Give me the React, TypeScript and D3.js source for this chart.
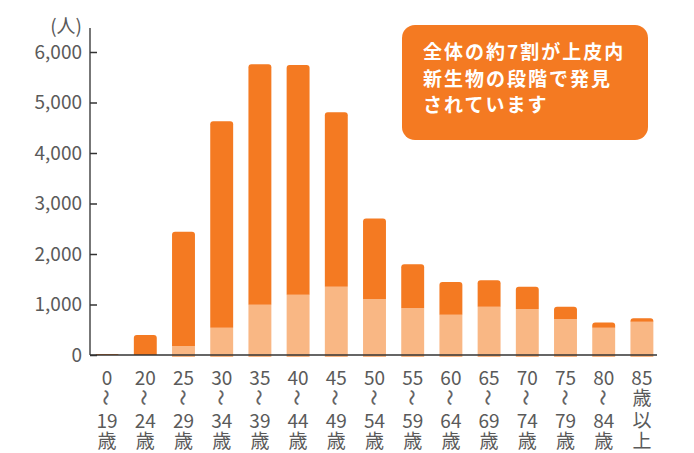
import React, { useRef, useEffect } from 'react';
import * as d3 from 'd3';

// age groups: first line, second line(s)
const ageFrom = ['0', '20', '25', '30', '35', '40', '45', '50', '55', '60', '65', '70', '75', '80', '85'];
const ageTo = ['19', '24', '29', '34', '39', '44', '49', '54', '59', '64', '69', '74', '79', '84', ''];
// 上皮内 (light) and the rest (dark), people
const inSitu = [0, 0, 180, 540, 995, 1195, 1350, 1110, 925, 798, 957, 911, 713, 541, 660];
const invasive = [20, 395, 2260, 4090, 4760, 4550, 3455, 1595, 870, 647, 523, 439, 242, 104, 70];
const yTicks = [0, 1000, 2000, 3000, 4000, 5000, 6000];
const noteLines = ['全体の約7割が上皮内', '新生物の段階で発見', 'されています'];

const DARK = '#F47A22';
const LIGHT = '#F9B784';
const FONT = '"Noto Sans CJK JP", "Noto Sans", sans-serif';

const width = 694;
const height = 453;
const margin = { top: 52, bottom: 98, left: 90, right: 33 };

function topRounded(x: number, y: number, w: number, h: number, r: number) {
  const rr = Math.min(r, h, w / 2);
  return `M${x},${y + h}V${y + rr}Q${x},${y} ${x + rr},${y}H${x + w - rr}Q${x + w},${y} ${x + w},${y + rr}V${y + h}Z`;
}

const App: React.FC = () => {
  const yAxisRef = useRef<SVGGElement>(null);

  const x = d3.scaleBand<string>()
    .domain(ageFrom)
    .range([88, 661])
    .paddingInner(0.4)
    .paddingOuter(0.2);

  const y = d3.scaleLinear()
    .domain([0, 6000])
    .range([height - margin.bottom, margin.top]);

  useEffect(() => {
    if (!yAxisRef.current) return;
    const g = d3.select(yAxisRef.current);
    g.selectAll('*').remove();
    g.call(
      d3.axisLeft(y)
        .tickValues(yTicks)
        .tickFormat(d3.format(','))
        .tickSizeInner(-7)
        .tickSizeOuter(0)
        .tickPadding(8)
    );
    g.select('.domain').remove();
    g.selectAll('.tick line').attr('stroke', '#333').attr('stroke-width', 1.5);
    g.selectAll('.tick text')
      .attr('fill', '#5a5a5a')
      .style('font-family', FONT)
      .style('font-size', '19px');
  }, []);

  const baseY = y(0);
  const bw = x.bandwidth();

  return (
    <svg width={width} height={height} style={{ position: 'absolute', left: 0, top: 0, background: '#fff' }}>
      {/* bars */}
      {ageFrom.map((a, i) => {
        const x0 = x(a)!;
        const lightTop = y(inSitu[i]);
        const darkTop = y(inSitu[i] + invasive[i]);
        return (
          <g key={a}>
            {inSitu[i] > 0 && (
              <rect x={x0} y={lightTop} width={bw} height={baseY - lightTop + 2} fill={LIGHT} />
            )}
            <path d={topRounded(x0, darkTop, bw, lightTop - darkTop, 3)} fill={DARK} />
          </g>
        );
      })}

      {/* y axis */}
      <line x1={margin.left} x2={margin.left} y1={28} y2={baseY} stroke="#777" strokeWidth={2} />
      <g ref={yAxisRef} transform={`translate(${margin.left},0)`} />
      <text x={82} y={33} textAnchor="end" fill="#5a5a5a" style={{ fontFamily: FONT, fontSize: 19 }}>(人)</text>

      {/* x axis */}
      <line x1={margin.left} x2={657} y1={baseY} y2={baseY} stroke="#333" strokeWidth={1.5} />
      {ageFrom.map((a, i) => {
        const cx = x(a)! + bw / 2;
        const txt = { fontFamily: FONT, fontSize: 19 };
        if (ageTo[i] === '') {
          return (
            <g key={a} fill="#5a5a5a" textAnchor="middle" style={txt}>
              <text x={cx} y={385}>{a}</text>
              <text x={cx} y={405}>歳</text>
              <text x={cx} y={427}>以</text>
              <text x={cx} y={448}>上</text>
            </g>
          );
        }
        return (
          <g key={a} fill="#5a5a5a" textAnchor="middle" style={txt}>
            <text x={cx} y={385}>{a}</text>
            <text
              x={cx}
              y={397.5}
              dominantBaseline="central"
              transform={`rotate(90 ${cx} 397.5)`}
              stroke="#5a5a5a"
              strokeWidth={0.4}
              style={{ fontSize: 16 }}
            >〜</text>
            <text x={cx} y={428}>{ageTo[i]}</text>
            <text x={cx} y={448}>歳</text>
          </g>
        );
      })}

      {/* note box */}
      <rect x={402} y={25} width={246} height={115} rx={13} fill={DARK} />
      {noteLines.map((t, i) => (
        <text
          key={t}
          x={423}
          y={59 + i * 26.5}
          fill="#fff"
          style={{ fontFamily: FONT, fontSize: 19, fontWeight: 700, letterSpacing: 2 }}
        >{t}</text>
      ))}
    </svg>
  );
};

export default App;
